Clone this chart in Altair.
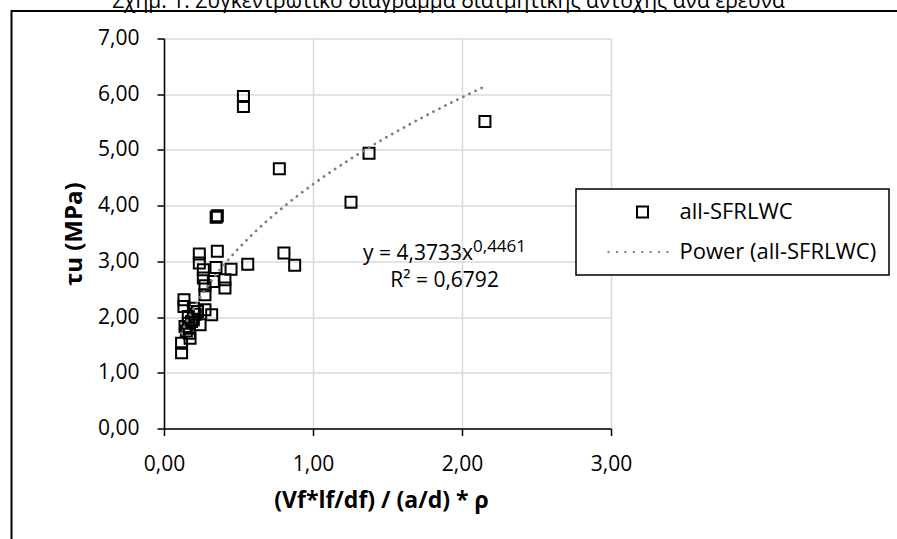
import altair as alt
import pandas as pd

# ---- data ----
x_vals = [0.533, 0.533, 0.774, 1.376, 2.154, 1.255, 0.350, 0.358, 0.237, 0.237,
          0.358, 0.805, 0.877, 0.562, 0.450, 0.349, 0.264, 0.264, 0.409, 0.409,
          0.331, 0.275, 0.275, 0.134, 0.134, 0.197, 0.275, 0.320, 0.242, 0.163,
          0.163, 0.168, 0.170, 0.175, 0.118, 0.118, 0.141, 0.197, 0.185, 0.210,
          0.150, 0.225]
y_vals = [5.96, 5.78, 4.66, 4.94, 5.51, 4.06, 3.79, 3.82, 3.13, 2.97,
          3.18, 3.15, 2.93, 2.95, 2.86, 2.89, 2.85, 2.70, 2.67, 2.52,
          2.64, 2.56, 2.40, 2.31, 2.19, 2.16, 2.13, 2.04, 1.86, 2.01,
          1.89, 1.80, 1.71, 1.62, 1.53, 1.36, 1.83, 1.95, 1.92, 2.05,
          1.75, 2.10]
series_names = ["all-SFRLWC", "Power (all-SFRLWC)"]
x_ticks = [0, 1, 2, 3]
y_ticks = [0, 1, 2, 3, 4, 5, 6, 7]
title_text = "Σχήμ. 1: Συγκεντρωτικό διάγραμμα διατμητικής αντοχής ανά έρευνα"
x_title = "(Vf*lf/df) / (a/d) * ρ"
y_title = "τu (MPa)"
eq_main = "y = 4,3733x"
eq_sup = "0,4461"
eq_r2 = "R² = 0,6792"

df = pd.DataFrame({"x": x_vals, "y": y_vals, "series": [series_names[0]] * len(x_vals)})
one = pd.DataFrame({"k": [0]})

FONT = "Open Sans"
label_expr = "replace(format(datum.value, '.2f'), '.', ',')"

# legend glyph for the dotted trendline (unit = half symbol side)
dots = "".join(f"M{(-6.18 + k * 1.533) - 0.18:.3f},0h0.36" for k in range(8))

x_enc = alt.X(
    "x:Q",
    scale=alt.Scale(domain=[0, 3], nice=False),
    axis=alt.Axis(
        values=x_ticks, labelExpr=label_expr, title=x_title, labelFlush=False,
        domainColor="black", domainWidth=1.5, tickColor="black", tickWidth=1.5, tickSize=7,
        gridColor="#d9d9d9", gridWidth=1.5,
        labelFont=FONT, labelFontSize=21, labelColor="black", labelPadding=18,
        titleFont=FONT, titleFontSize=23, titleFontWeight="bold", titleColor="black",
        titleY=71.5, titleX=217, titleBaseline="middle", titleAlign="center",
    ),
)
y_enc = alt.Y(
    "y:Q",
    scale=alt.Scale(domain=[0, 7], nice=False),
    axis=alt.Axis(
        values=y_ticks, labelExpr=label_expr, title=y_title, labelFlush=False,
        domainColor="black", domainWidth=1.5, tickColor="black", tickWidth=1.5, tickSize=7,
        gridColor="#d9d9d9", gridWidth=1.5,
        labelFont=FONT, labelFontSize=21, labelColor="black", labelPadding=18,
        titleFont=FONT, titleFontSize=24, titleFontWeight="bold", titleColor="black",
        titleX=-90, titleY=195, titleBaseline="middle", titleAlign="center",
    ),
)

leg = alt.Legend(
    title=None, orient="none", legendX=412, legendY=150.5,
    strokeColor="black", fillColor="white", padding=12,
    symbolSize=121, symbolStrokeWidth=2, symbolOffset=43.5,
    labelOffset=26, labelLimit=400, labelFont=FONT, labelFontSize=22, labelColor="black",
    rowPadding=18,
)

points = alt.Chart(df).mark_point(filled=False, size=121, strokeWidth=2, opacity=1).encode(
    x=x_enc,
    y=y_enc,
    shape=alt.Shape("series:N", scale=alt.Scale(domain=series_names, range=["square", dots]), legend=leg),
    color=alt.Color("series:N", scale=alt.Scale(domain=series_names, range=["black", "#808080"]), legend=leg),
)

trend = alt.Chart(df).transform_regression("x", "y", method="pow").mark_line(
    color="#808080", strokeWidth=2.8, strokeDash=[0.1, 6.6], strokeCap="round"
).encode(x=x_enc, y=y_enc)

eq1 = alt.Chart(one).mark_text(text=eq_main, font=FONT, fontSize=21, align="right",
                               baseline="alphabetic", color="black").encode(
    x=alt.datum(2.074), y=alt.datum(3.025))
eq2 = alt.Chart(one).mark_text(text=eq_sup, font=FONT, fontSize=17, align="left",
                               baseline="alphabetic", color="black").encode(
    x=alt.datum(2.074), y=alt.datum(3.174))
eq3 = alt.Chart(one).mark_text(text=eq_r2, font=FONT, fontSize=21, align="center",
                               baseline="alphabetic", color="black").encode(
    x=alt.datum(1.883), y=alt.datum(2.545))

title = alt.Chart(one).mark_text(text=title_text, font=FONT, fontSize=21, align="center",
                                 baseline="alphabetic", color="black").encode(
    x=alt.value(284.5), y=alt.value(-30.5))
frame_top = alt.Chart(one).mark_rule(color="black", strokeWidth=2).encode(
    x=alt.value(-152.5), x2=alt.value(740), y=alt.value(-27.5))
frame_left = alt.Chart(one).mark_rule(color="black", strokeWidth=2).encode(
    x=alt.value(-152.5), y=alt.value(-28.5), y2=alt.value(510))

chart = alt.layer(points, trend, eq1, eq2, eq3, title, frame_top, frame_left).properties(
    width=447, height=390,
    padding={"left": 164, "top": 38.5, "right": 286, "bottom": 110.5},
    autosize="none", background="white",
).configure_view(strokeOpacity=0).configure_legend(strokeWidth=1.5)

chart.save("out.html", embed_options={"renderer": "svg", "actions": False})
